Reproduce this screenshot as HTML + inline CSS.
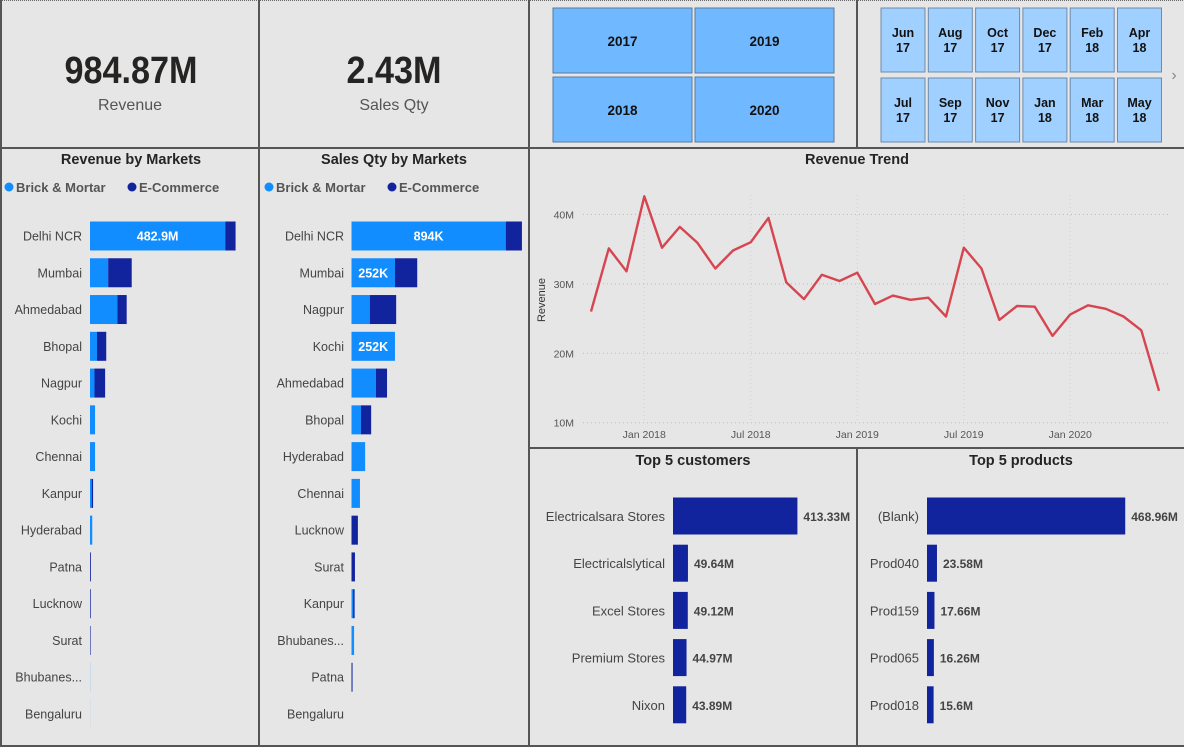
<!DOCTYPE html>
<html><head><meta charset="utf-8"><style>
html,body{margin:0;padding:0;background:#e6e6e6;}
svg{display:block;font-family:"Liberation Sans",sans-serif;}
</style></head><body>
<svg id="dash" width="1184" height="747" viewBox="0 0 1184 747">
<rect x="0" y="0" width="1184" height="747" fill="#e6e6e6"/>
<line x1="0" y1="0.5" x2="1184" y2="0.5" stroke="#666" stroke-dasharray="1,1"/>
<g stroke="#555" stroke-width="2">
<line x1="1" y1="0" x2="1" y2="747"/><line x1="259" y1="0" x2="259" y2="747"/><line x1="529" y1="0" x2="529" y2="747"/>
<line x1="857" y1="0" x2="857" y2="148"/><line x1="857" y1="448" x2="857" y2="747"/>
<line x1="0" y1="148" x2="1184" y2="148"/><line x1="529" y1="448" x2="1184" y2="448"/><line x1="0" y1="746" x2="1184" y2="746"/>
</g>
<g>
<text x="131" y="83" text-anchor="middle" font-size="38" font-weight="bold" fill="#252423" transform="translate(131,0) scale(0.9,1) translate(-131,0)">984.87M</text>
<text x="130" y="110" text-anchor="middle" font-size="16" fill="#555">Revenue</text>
</g>
<g>
<text x="394" y="83" text-anchor="middle" font-size="38" font-weight="bold" fill="#252423" transform="translate(394,0) scale(0.9,1) translate(-394,0)">2.43M</text>
<text x="394" y="110" text-anchor="middle" font-size="16" fill="#555">Sales Qty</text>
</g>
<g id="years"></g>
<g id="months"></g>
<text x="1174" y="80" text-anchor="middle" font-size="16" fill="#888">›</text>
<g id="revMarkets">
<text x="131" y="164" text-anchor="middle" font-size="14.5" font-weight="bold" fill="#252423">Revenue by Markets</text>
</g>
<g id="salesMarkets">
<text x="394" y="164" text-anchor="middle" font-size="14.5" font-weight="bold" fill="#252423">Sales Qty by Markets</text>
</g>
<g id="trend">
<text x="857" y="164" text-anchor="middle" font-size="14.5" font-weight="bold" fill="#252423">Revenue Trend</text>
<text x="545" y="300" text-anchor="middle" font-size="11" fill="#333" transform="rotate(-90 545 300)">Revenue</text>
</g>
<g id="cust">
<text x="693" y="465" text-anchor="middle" font-size="14.5" font-weight="bold" fill="#252423">Top 5 customers</text>
</g>
<g id="prod">
<text x="1021" y="465" text-anchor="middle" font-size="14.5" font-weight="bold" fill="#252423">Top 5 products</text>
</g>
</svg>
<script>
const revCities = ['Delhi NCR','Mumbai','Ahmedabad','Bhopal','Nagpur','Kochi','Chennai','Kanpur','Hyderabad','Patna','Lucknow','Surat','Bhubanes...','Bengaluru'];
const revBrick = [482.9,65,98,25,16,18,18,6,8,0,0,0,0.5,0.2];
const revEcom = [37,84,33,33,38,0,0,5,0,3,2.5,2,0,0];
const revLabels = ['482.9M','','','','','','','','','','','','',''];
const salesCities = ['Delhi NCR','Mumbai','Nagpur','Kochi','Ahmedabad','Bhopal','Hyderabad','Chennai','Lucknow','Surat','Kanpur','Bhubanes...','Patna','Bengaluru'];
const salesBrick = [894,252,106,252,141,55,79,49,0,0,9,15,0,0];
const salesEcom = [94,129,153,0,65,59,0,0,37,20,9,0,6,0];
const salesLabels = ['894K','252K','','252K','','','','','','','','','',''];
const trendMonths = ['Oct 2017','Nov 2017','Dec 2017','Jan 2018','Feb 2018','Mar 2018','Apr 2018','May 2018','Jun 2018','Jul 2018','Aug 2018','Sep 2018','Oct 2018','Nov 2018','Dec 2018','Jan 2019','Feb 2019','Mar 2019','Apr 2019','May 2019','Jun 2019','Jul 2019','Aug 2019','Sep 2019','Oct 2019','Nov 2019','Dec 2019','Jan 2020','Feb 2020','Mar 2020','Apr 2020','May 2020','Jun 2020'];
const trendValues = [26.0,35.1,31.8,42.6,35.2,38.2,35.9,32.2,34.8,36.0,39.5,30.2,27.8,31.3,30.4,31.6,27.1,28.3,27.7,28.0,25.3,35.2,32.2,24.8,26.8,26.7,22.5,25.6,26.9,26.4,25.3,23.3,14.6];
const yTicks = [10,20,30,40];
const yTickLabels = ['10M','20M','30M','40M'];
const xTickIdx = [3,9,15,21,27];
const xTickLabels = ['Jan 2018','Jul 2018','Jan 2019','Jul 2019','Jan 2020'];
const custNames = ['Electricalsara Stores','Electricalslytical','Excel Stores','Premium Stores','Nixon'];
const custValues = [413.33,49.64,49.12,44.97,43.89];
const custLabels = ['413.33M','49.64M','49.12M','44.97M','43.89M'];
const prodNames = ['(Blank)','Prod040','Prod159','Prod065','Prod018'];
const prodValues = [468.96,23.58,17.66,16.26,15.6];
const prodLabels = ['468.96M','23.58M','17.66M','16.26M','15.6M'];
const yearLabels = ['2017','2019','2018','2020'];
const monthTop = ['Jun|17','Aug|17','Oct|17','Dec|17','Feb|18','Apr|18'];
const monthBot = ['Jul|17','Sep|17','Nov|17','Jan|18','Mar|18','May|18'];

const NS='http://www.w3.org/2000/svg';
function mk(parent,tag,attrs,txt){const e=document.createElementNS(NS,tag);for(const k in attrs)e.setAttribute(k,attrs[k]);if(txt!==undefined)e.textContent=txt;parent.appendChild(e);return e;}
const LIGHT='#118dff', DARK='#12239e';

// year slicer
const yg=document.getElementById('years');
yearLabels.forEach((l,i)=>{
  const x=553+(i%2)*142, y=8+Math.floor(i/2)*69;
  const r=mk(yg,'rect',{x:x,y:y,width:139,height:65,fill:'#70b8ff',stroke:'#5b7a99','stroke-width':1});
  
  
  const t=mk(yg,'text',{x:x+69.5,y:y+38,'text-anchor':'middle','font-size':13.5,'font-weight':'bold',fill:'#111'},l);
  
  
});
// month slicer
const mg=document.getElementById('months');
[monthTop,monthBot].forEach((row,ri)=>row.forEach((m,i)=>{
  const x=881+i*47.3, y=8+ri*70, p=m.split('|');
  const r=mk(mg,'rect',{x:x,y:y,width:44,height:64,fill:'#a0d0ff',stroke:'#6d8bab','stroke-width':1});
  
  
  const t1=mk(mg,'text',{x:x+22,y:y+29,'text-anchor':'middle','font-size':12.5,'font-weight':'bold',fill:'#111'},p[0]);
  
  
  const t2=mk(mg,'text',{x:x+22,y:y+44,'text-anchor':'middle','font-size':12.5,'font-weight':'bold',fill:'#111'},p[1]);
  
  
}));

function legend(g,x0){
  const d1=mk(g,'circle',{cx:x0+5,cy:187,r:4.5,fill:LIGHT});
  
  
  const t1=mk(g,'text',{x:x0+12,y:192,'font-size':13,'font-weight':'bold',fill:'#555'},'Brick & Mortar');
  
  
  const d2=mk(g,'circle',{cx:x0+128,cy:187,r:4.5,fill:DARK});
  
  
  const t2=mk(g,'text',{x:x0+135,y:192,'font-size':13,'font-weight':'bold',fill:'#555'},'E-Commerce');
  
  
}
function stacked(id,cities,brick,ecom,labels,x0,labelX,scale,legX){
  const g=document.getElementById(id);
  legend(g,legX);
  cities.forEach((c,i)=>{
    const cy=236+i*36.77;
    const t=mk(g,'text',{x:labelX,y:cy+4.5,'text-anchor':'end','font-size':12.5,fill:'#444'},c);
    
    
    const wb=brick[i]*scale, we=ecom[i]*scale;
    const b=mk(g,'rect',{x:x0,y:cy-14.5,width:wb,height:29,fill:LIGHT});
    
    
    const e=mk(g,'rect',{x:x0+wb,y:cy-14.5,width:we,height:29,fill:DARK});
    
    
    if(labels[i]){
      const l=mk(g,'text',{x:x0+wb/2,y:cy+4.5,'text-anchor':'middle','font-size':12.5,'font-weight':'bold',fill:'#fff'},labels[i]);
      
      
    }
  });
}
stacked('revMarkets',revCities,revBrick,revEcom,revLabels,90,82,0.28,4);
stacked('salesMarkets',salesCities,salesBrick,salesEcom,salesLabels,351.5,344,0.1725,264);

// trend
const tg=document.getElementById('trend');
const xS=i=>591+i*17.75;
const yS=v=>422.7-(v-10)*6.944;
xTickIdx.forEach((ix,k)=>{
  const gl=mk(tg,'line',{x1:xS(ix),y1:195,x2:xS(ix),y2:423,stroke:'#d0d0d0','stroke-dasharray':'1,3'});
  
  
  const t=mk(tg,'text',{x:xS(ix),y:438,'text-anchor':'middle','font-size':10.5,fill:'#555'},xTickLabels[k]);
  
  
});
yTicks.forEach((v,k)=>{
  const gl=mk(tg,'line',{x1:583,y1:yS(v),x2:1168,y2:yS(v),stroke:'#bbb','stroke-dasharray':'1,3'});
  
  
  const t=mk(tg,'text',{x:574,y:yS(v)+4,'text-anchor':'end','font-size':10.5,fill:'#555'},yTickLabels[k]);
  
  
});
const pts=trendValues.map((v,i)=>xS(i).toFixed(1)+','+yS(v).toFixed(1)).join(' ');
const pl=mk(tg,'polyline',{points:pts,fill:'none',stroke:'#d64550','stroke-width':2.4,'stroke-linejoin':'round'});



function topN(id,names,vals,labels,x0,labelX,scale){
  const g=document.getElementById(id);
  names.forEach((n,i)=>{
    const cy=516+i*47.2, w=vals[i]*scale;
    const t=mk(g,'text',{x:labelX,y:cy+5,'text-anchor':'end','font-size':13,fill:'#444'},n);
    
    
    const b=mk(g,'rect',{x:x0,y:cy-18.5,width:w,height:37,fill:DARK});
    
    
    const l=mk(g,'text',{x:x0+w+6,y:cy+5,'font-size':12,'font-weight':'bold',fill:'#444'},labels[i]);
    
    
  });
}
topN('cust',custNames,custValues,custLabels,673,665,0.301);
topN('prod',prodNames,prodValues,prodLabels,927,919,0.4227);
</script>
</body></html>
